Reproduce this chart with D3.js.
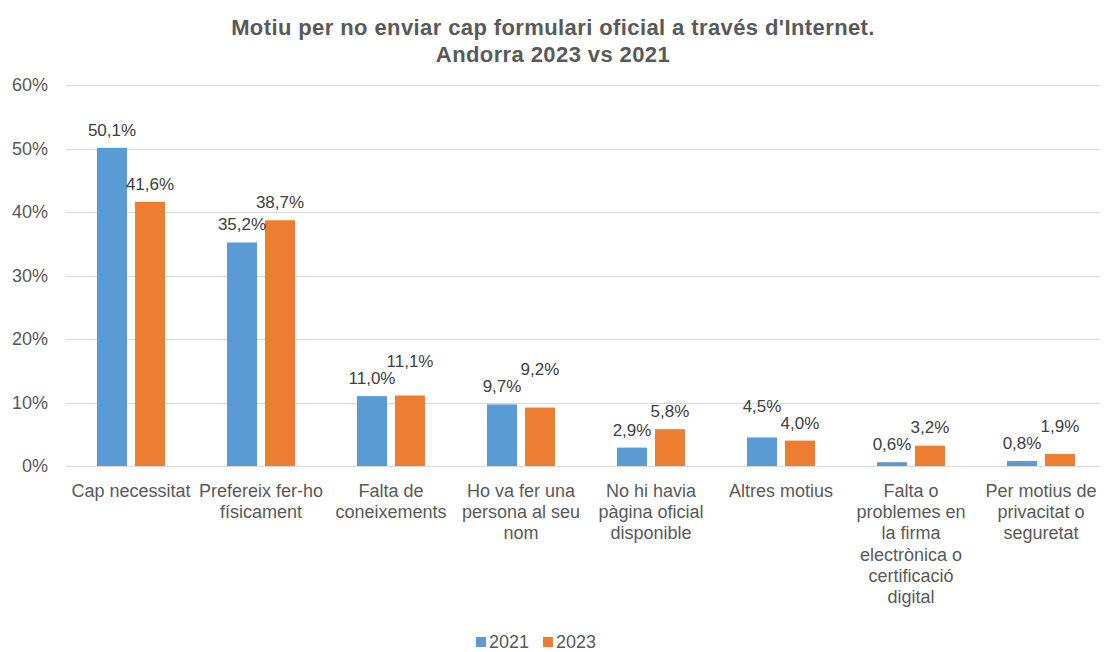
<!DOCTYPE html>
<html>
<head>
<meta charset="utf-8">
<script src="https://cdn.jsdelivr.net/npm/d3@7"></script>
<style>
  body { margin: 0; background: #fff; }
  text { font-family: 'Liberation Sans', Arial, sans-serif; }
</style>
</head>
<body>
<script>
// categories (line breaks as in the original axis)
const categories = [
  'Cap necessitat',
  'Prefereix fer-ho\nfísicament',
  'Falta de\nconeixements',
  'Ho va fer una\npersona al seu\nnom',
  'No hi havia\npàgina oficial\ndisponible',
  'Altres motius',
  'Falta o\nproblemes en\nla firma\nelectrònica o\ncertificació\ndigital',
  'Per motius de\nprivacitat o\nseguretat'
];
const years = ['2021', '2023'];
const values2021 = [50.1, 35.2, 11.0, 9.7, 2.9, 4.5, 0.6, 0.8];
const values2023 = [41.6, 38.7, 11.1, 9.2, 5.8, 4.0, 3.2, 1.9];
const yTicks = [0, 10, 20, 30, 40, 50, 60];
const colors = ['#5B9BD5', '#ED7D31'];

const width = 1106, height = 652;
const margin = {top: 85, right: 0, bottom: 186, left: 66};

const svg = d3.select('body').append('svg')
  .attr('width', width)
  .attr('height', height);

// title
svg.append('text')
  .attr('x', width / 2)
  .attr('y', 35)
  .attr('text-anchor', 'middle')
  .style('font-size', '22px')
  .style('font-weight', 'bold')
  .style('letter-spacing', '0.4px')
  .style('fill', '#595959')
  .selectAll('tspan')
  .data(["Motiu per no enviar cap formulari oficial a través d'Internet.", 'Andorra 2023 vs 2021'])
  .join('tspan')
  .attr('x', width / 2)
  .attr('dy', (d, i) => i === 0 ? 0 : 27)
  .text(d => d);

// scales
const yScale = d3.scaleLinear()
  .domain([0, 60])
  .range([height - margin.bottom, margin.top]);

const xScale = d3.scaleBand()
  .domain(categories)
  .range([margin.left, width - margin.right]);

const xInner = d3.scaleBand()
  .domain(years)
  .range([31, 99])
  .paddingInner(0.21);

// gridlines
svg.append('g')
  .selectAll('line')
  .data(yTicks)
  .join('line')
  .attr('x1', margin.left)
  .attr('x2', width - 6)
  .attr('y1', d => Math.round(yScale(d)) + 0.5)
  .attr('y2', d => Math.round(yScale(d)) + 0.5)
  .attr('stroke', '#d9d9d9')
  .attr('stroke-width', 1);

// y axis labels
const yAxis = d3.axisLeft(yScale).tickValues(yTicks).tickFormat(d => d + '%').tickSize(0).tickPadding(18);
const yG = svg.append('g')
  .attr('transform', `translate(${margin.left},0)`)
  .call(yAxis);
yG.select('.domain').remove();
yG.selectAll('text')
  .style('font-size', '18px')
  .style('fill', '#595959')
  .style('font-family', "'Liberation Sans', Arial, sans-serif");

// bars
const rows = categories.map((c, i) => ({cat: c, vals: [values2021[i], values2023[i]]}));

const groups = svg.append('g')
  .selectAll('g')
  .data(rows)
  .join('g')
  .attr('transform', d => `translate(${xScale(d.cat)},0)`);

groups.selectAll('rect')
  .data(d => d.vals.map((v, j) => ({year: years[j], value: v, j: j})))
  .join('rect')
  .attr('x', d => xInner(d.year))
  .attr('y', d => yScale(d.value))
  .attr('width', xInner.bandwidth())
  .attr('height', d => yScale(0) - yScale(d.value))
  .attr('fill', d => colors[d.j]);

// data labels, nudged when the two labels of a group collide
groups.each(function(d) {
  const g = d3.select(this);
  const ys = d.vals.map(v => yScale(v) - 12);
  if (Math.abs(ys[0] - ys[1]) < 17) {
    if (d.vals[0] - d.vals[1] > 0.4 && d.vals[0] < 6) ys[0] = ys[1] - 17;
    else ys[1] = ys[0] - 17;
  }
  g.selectAll('text.lbl')
    .data(d.vals)
    .join('text')
    .attr('class', 'lbl')
    .attr('x', (v, j) => xInner(years[j]) + xInner.bandwidth() / 2)
    .attr('y', (v, j) => ys[j])
    .attr('text-anchor', 'middle')
    .style('font-size', '17px')
    .style('fill', '#404040')
    .text(v => v.toFixed(1).replace('.', ',') + '%');
});

// x axis labels
const xLab = svg.append('g')
  .selectAll('text')
  .data(categories)
  .join('text')
  .attr('x', d => xScale(d) + xScale.bandwidth() / 2)
  .attr('y', yScale(0) + 31)
  .attr('text-anchor', 'middle')
  .style('font-size', '18px')
  .style('fill', '#595959');

xLab.selectAll('tspan')
  .data(d => d.split('\n'))
  .join('tspan')
  .attr('x', function() { return d3.select(this.parentNode).attr('x'); })
  .attr('dy', (d, i) => i === 0 ? 0 : 21.2)
  .text(d => d);

// legend
const legend = svg.append('g')
  .attr('transform', 'translate(476,642)');
const legendX = d3.scaleOrdinal().domain(years).range([0, 67]);
years.forEach((y, i) => {
  legend.append('rect')
    .attr('x', legendX(y))
    .attr('y', -5)
    .attr('width', 10)
    .attr('height', 10)
    .attr('fill', colors[i]);
  legend.append('text')
    .attr('x', legendX(y) + 13)
    .attr('y', 6)
    .style('font-size', '18px')
    .style('fill', '#595959')
    .text(y);
});
</script>
</body>
</html>
